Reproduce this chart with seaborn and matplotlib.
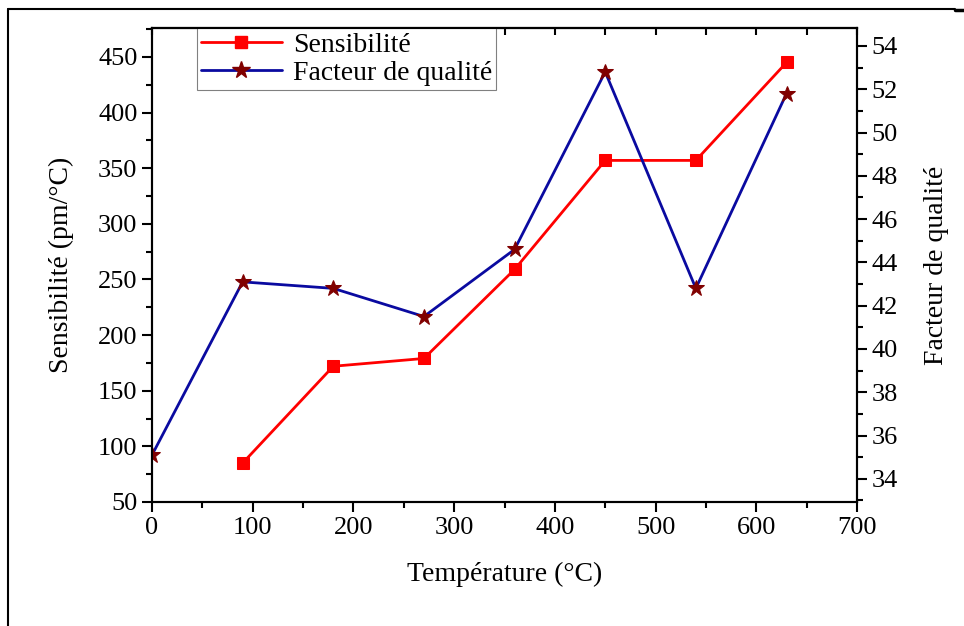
import matplotlib
matplotlib.use("Agg")
import matplotlib.pyplot as plt
import seaborn as sns
from matplotlib.ticker import MultipleLocator
from matplotlib.lines import Line2D

temperature = [0, 90, 180, 270, 360, 450, 540, 630]
sens_temp = [90, 180, 270, 360, 450, 540, 630]
sensibilite = [85, 172, 179, 259, 357, 357, 445]
facteur = [35.1, 43.1, 42.8, 41.5, 44.6, 52.8, 42.8, 51.8]

sns.set_style("ticks")
plt.rcParams["font.family"] = ["Liberation Serif", "DejaVu Serif"]
plt.rcParams["axes.linewidth"] = 1.5
plt.rcParams["text.color"] = "black"
plt.rcParams["axes.labelcolor"] = "black"
plt.rcParams["xtick.color"] = "black"
plt.rcParams["ytick.color"] = "black"
plt.rcParams["axes.edgecolor"] = "black"

fig = plt.figure(figsize=(9.64, 6.26), dpi=100)
ax = fig.add_axes([152 / 964, 1 - 502 / 626, 705 / 964, 474 / 626])
ax2 = ax.twinx()

sns.lineplot(x=sens_temp, y=sensibilite, ax=ax, color="#ff0000", lw=2,
             marker="s", markersize=8, markeredgecolor="#ff0000", legend=False)
sns.lineplot(x=temperature, y=facteur, ax=ax2, color="#0a0aa0", lw=2,
             marker="*", markersize=12, markerfacecolor="#800000",
             markeredgecolor="#800000", legend=False)

ax.set_xlim(0, 700)
ax.set_ylim(50, 476)
ax2.set_ylim(32.93, 54.83)
ax.xaxis.set_major_locator(MultipleLocator(100))
ax.xaxis.set_minor_locator(MultipleLocator(50))
ax.yaxis.set_major_locator(MultipleLocator(50))
ax.yaxis.set_minor_locator(MultipleLocator(25))
ax2.yaxis.set_major_locator(MultipleLocator(2))
ax2.yaxis.set_minor_locator(MultipleLocator(1))

for a in (ax, ax2):
    for s in a.spines.values():
        s.set_visible(True)
        s.set_linewidth(1.5)
        s.set_color("black")
ax.tick_params(axis="both", which="major", length=7, width=1.5, labelsize=19, direction="out")
ax.tick_params(axis="both", which="minor", length=4, width=1.5, direction="out")
ax2.tick_params(axis="y", which="major", length=7, width=1.5, labelsize=19, direction="out")
ax2.tick_params(axis="y", which="minor", length=4, width=1.5, direction="out")

# inward ticks along the top spine
secx = ax.secondary_xaxis("top")
secx.xaxis.set_major_locator(MultipleLocator(50))
secx.tick_params(direction="in", length=5, width=1.5, labeltop=False)
ax.tick_params(axis="x", top=False, which="both")

ax.set_xlabel("Température (°C)", fontsize=20, labelpad=17)
ax.set_ylabel("Sensibilité (pm/°C)", fontsize=20, labelpad=17)
ax2.set_ylabel("Facteur de qualité", fontsize=20, labelpad=19)

handles = [
    Line2D([], [], color="#ff0000", lw=2, marker="s", markersize=9),
    Line2D([], [], color="#0a0aa0", lw=2, marker="*", markersize=13,
           markerfacecolor="#800000", markeredgecolor="#800000"),
]
leg = ax.legend(handles, ["Sensibilité", "Facteur de qualité"], loc="upper left",
                bbox_to_anchor=(45 / 705, 1.0), fontsize=20, frameon=True,
                fancybox=False, framealpha=1, edgecolor="#808080",
                borderpad=0.15, handlelength=2.9, handletextpad=0.4,
                labelspacing=0.1, borderaxespad=0)
leg.get_frame().set_linewidth(0.8)

# page frame
fig.add_artist(Line2D([8 / 964, 8 / 964], [0, 1 - 9 / 626], color="black", lw=1.5,
                      transform=fig.transFigure))
fig.add_artist(Line2D([8 / 964, 955 / 964], [1 - 9 / 626, 1 - 9 / 626], color="black",
                      lw=1.5, transform=fig.transFigure))
fig.add_artist(Line2D([955 / 964, 964 / 964], [1 - 10 / 626, 1 - 10 / 626], color="black",
                      lw=2.5, transform=fig.transFigure))

fig.savefig("out.png", dpi=100)
